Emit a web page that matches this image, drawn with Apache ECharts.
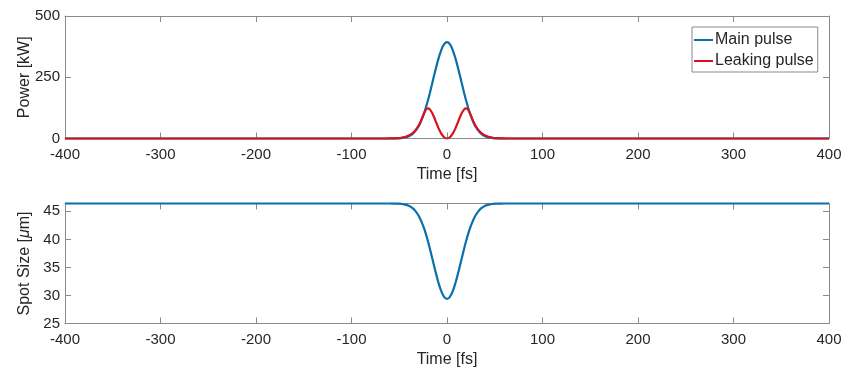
<!DOCTYPE html>
<html>
<head>
<meta charset="utf-8">
<script src="https://cdn.jsdelivr.net/npm/echarts@6/dist/echarts.min.js"></script>
<style>
  html, body { margin: 0; padding: 0; background: #fff; }
  #chart { width: 850px; height: 376px; }
</style>
</head>
<body>
<div id="chart"></div>
<script>
// time axis [fs], denser round the pulse
const times = [-400, -70, -60, -56, -52, -48, -44, -40, -36, -33, -30, -28, -26, -24, -22, -20, -18, -15, -12, -9, -6, -3,
  0, 3, 6, 9, 12, 15, 18, 20, 22, 24, 26, 28, 30, 33, 36, 40, 44, 48, 52, 56, 60, 70, 400]

// power [kW]
const mainPulse = [0, 0, 0.1, 0.25, 0.7, 1.8, 4.4, 9.5, 19.3, 31, 48.5, 63.5, 82, 103, 128, 155, 185, 233, 281, 325, 361, 385,
  393, 385, 361, 325, 281, 233, 185, 155, 128, 103, 82, 63.5, 48.5, 31, 19.3, 9.5, 4.4, 1.8, 0.7, 0.25, 0.1, 0, 0]
const leakingPulse = [0, 0, 0.2, 0.5, 1.3, 3, 6, 12, 22, 34, 51, 66, 84, 103, 118, 123, 119, 100, 72, 43, 20, 5,
  0, 5, 20, 43, 72, 100, 119, 123, 118, 103, 84, 66, 51, 34, 22, 12, 6, 3, 1.3, 0.5, 0.2, 0, 0]

// spot size [um]
const spotSize = [46.4, 46.4, 46.4, 46.39, 46.37, 46.32, 46.21, 45.99, 45.57, 45.05, 44.31, 43.65, 42.86, 41.95, 40.89, 39.7, 38.39, 36.32, 34.24, 32.32, 30.77, 29.76,
  29.4, 29.76, 30.77, 32.32, 34.24, 36.32, 38.39, 39.7, 40.89, 41.95, 42.86, 43.65, 44.31, 45.05, 45.57, 45.99, 46.21, 46.32, 46.37, 46.39, 46.4, 46.4, 46.4]

const timeTicks = { min: -400, max: 400, interval: 100 }
const powerTicks = { min: 0, max: 500, interval: 250 }
const spotTicks = { min: 25, max: 46.4, interval: 5 }

const BLUE = '#0b6ead'
const RED = '#d5141d'
const AXIS = '#8a8a8a'
const TEXT = '#262626'
const FONT = 'Liberation Sans, Arial, sans-serif'

const pairs = (ys) => times.map((t, i) => [t, ys[i]])

const axisLine = { show: true, onZero: false, lineStyle: { color: AXIS, width: 1 } }
const tick = { show: true, inside: true, length: 6, lineStyle: { color: AXIS } }

const xAxisBottom = (gridIndex) => ({
  type: 'value',
  gridIndex,
  ...timeTicks,
  name: 'Time [fs]',
  nameLocation: 'middle',
  nameGap: 28,
  nameMoveOverlap: false,
  nameTextStyle: { color: TEXT, fontSize: 16, fontFamily: FONT },
  axisLine,
  axisTick: tick,
  axisLabel: { color: TEXT, fontSize: 15, fontFamily: FONT, margin: 9 },
  splitLine: { show: false },
})
const xAxisTop = (gridIndex) => ({
  type: 'value',
  gridIndex,
  position: 'top',
  ...timeTicks,
  axisLine,
  axisTick: tick,
  axisLabel: { show: false },
  splitLine: { show: false },
})
const yAxisLeft = (gridIndex, ticks, name) => ({
  type: 'value',
  gridIndex,
  ...ticks,
  name,
  nameLocation: 'middle',
  nameGap: 32,
  nameMoveOverlap: false,
  nameTextStyle: {
    color: TEXT, fontSize: 16, fontFamily: FONT,
    rich: { i: { fontStyle: 'italic', fontSize: 16, fontFamily: FONT, color: TEXT } },
  },
  axisLine,
  axisTick: tick,
  axisLabel: { color: TEXT, fontSize: 15, fontFamily: FONT, margin: 5, showMaxLabel: ticks.max % ticks.interval === 0 },
  splitLine: { show: false },
})
const yAxisRight = (gridIndex, ticks) => ({
  type: 'value',
  gridIndex,
  position: 'right',
  ...ticks,
  axisLine,
  axisTick: tick,
  axisLabel: { show: false },
  splitLine: { show: false },
})

const chart = echarts.init(document.getElementById('chart'))
chart.setOption({
  animation: false,
  backgroundColor: '#fff',
  textStyle: { fontFamily: FONT },
  grid: [
    { left: 65, right: 21, top: 16, height: 122.5 },
    { left: 65, right: 21, top: 203.5, height: 120 },
  ],
  xAxis: [xAxisBottom(0), xAxisTop(0), xAxisBottom(1), xAxisTop(1)],
  yAxis: [
    yAxisLeft(0, powerTicks, 'Power [kW]'),
    yAxisRight(0, powerTicks),
    yAxisLeft(1, spotTicks, 'Spot Size [{i|μ}m]'),
    yAxisRight(1, spotTicks),
  ],
  legend: {
    data: ['Main pulse', 'Leaking pulse'],
    orient: 'vertical',
    left: 692,
    top: 27,
    width: 127,
    padding: [5, 4, 3, 2],
    itemGap: 5,
    icon: 'rect',
    itemWidth: 19,
    itemHeight: 2,
    backgroundColor: '#fff',
    borderColor: AXIS,
    borderWidth: 1,
    borderRadius: 0,
    textStyle: { color: TEXT, fontSize: 16, fontFamily: FONT, padding: [0, 0, 0, -3] },
  },
  series: [
    {
      name: 'Main pulse',
      type: 'line',
      xAxisIndex: 0,
      yAxisIndex: 0,
      data: pairs(mainPulse),
      symbol: 'none',
      smooth: 0.4,
      clip: false,
      lineStyle: { color: BLUE, width: 2.2 },
      itemStyle: { color: BLUE },
    },
    {
      name: 'Leaking pulse',
      type: 'line',
      xAxisIndex: 0,
      yAxisIndex: 0,
      data: pairs(leakingPulse),
      symbol: 'none',
      smooth: 0.4,
      clip: false,
      lineStyle: { color: RED, width: 2.2 },
      itemStyle: { color: RED },
    },
    {
      name: 'Spot size',
      type: 'line',
      xAxisIndex: 2,
      yAxisIndex: 2,
      data: pairs(spotSize),
      symbol: 'none',
      smooth: 0.4,
      clip: false,
      lineStyle: { color: BLUE, width: 2.2 },
      itemStyle: { color: BLUE },
    },
  ],
})
</script>
</body>
</html>
